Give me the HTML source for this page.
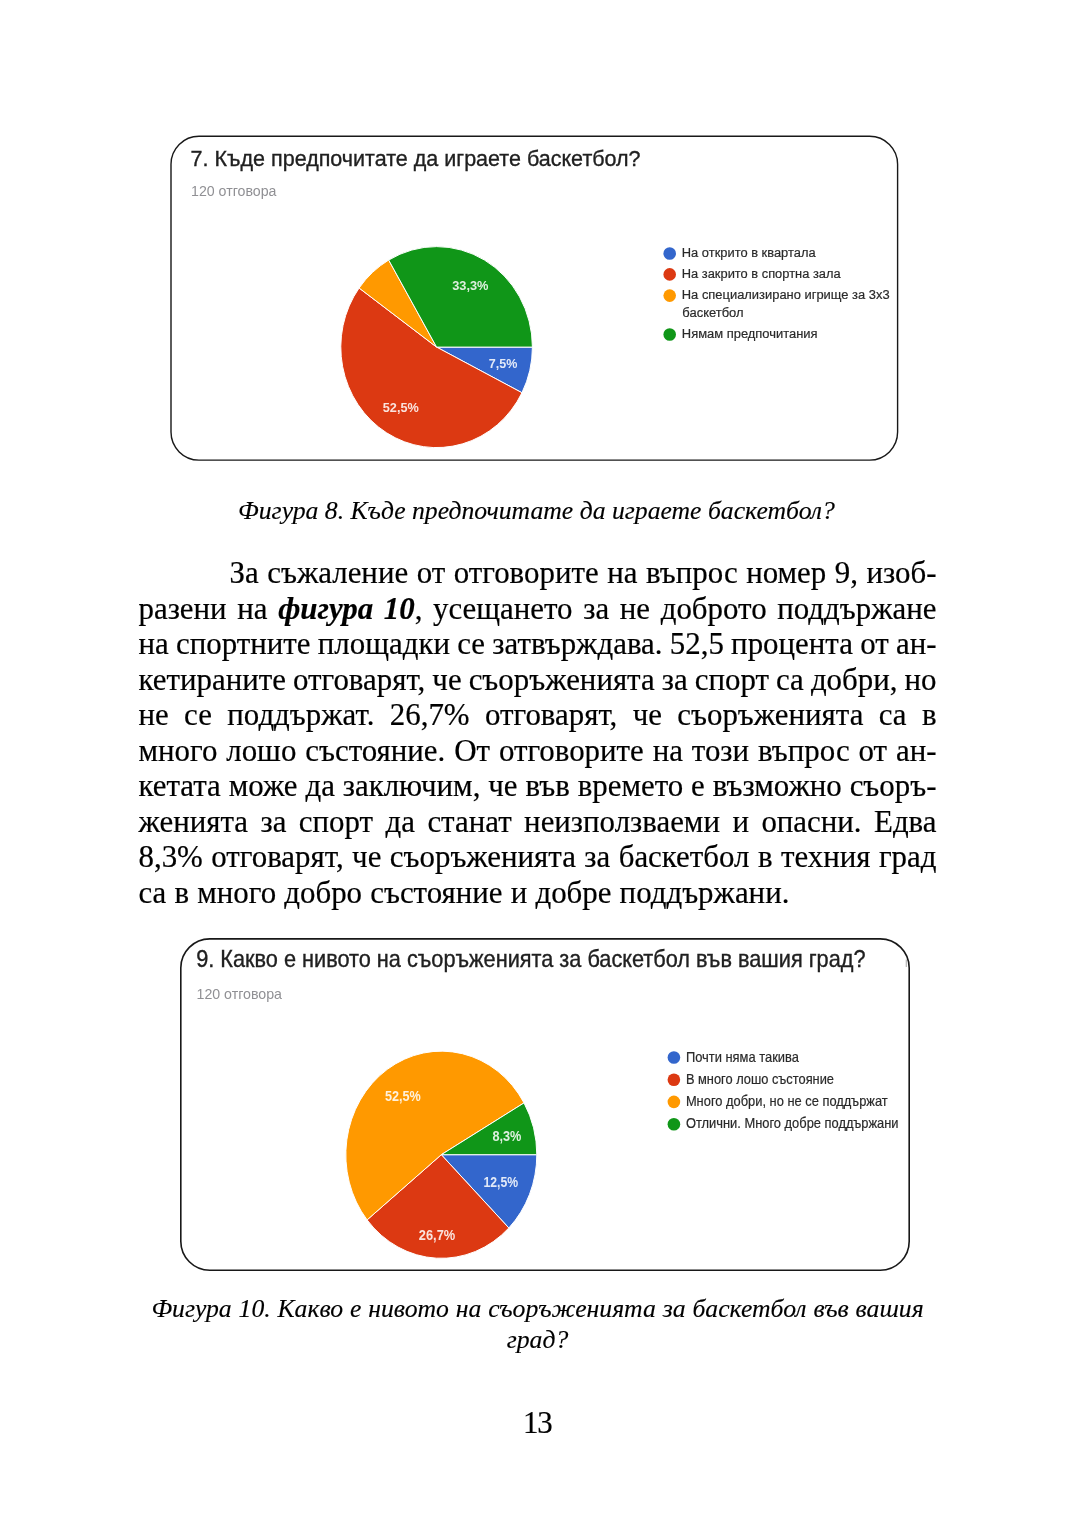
<!DOCTYPE html>
<html lang="bg">
<head>
<meta charset="utf-8">
<title>Страница 13</title>
<style>
html,body{margin:0;padding:0;background:#fff;}
body{width:1080px;height:1532px;position:relative;overflow:hidden;}
.bl{position:absolute;white-space:nowrap;font-family:"Liberation Serif","Times New Roman",serif;font-size:30.9px;line-height:1;color:#000;-webkit-text-stroke:0.2px #000;}
.cap{position:absolute;white-space:nowrap;font-family:"Liberation Serif","Times New Roman",serif;font-style:italic;font-size:25.7px;line-height:1;color:#000;-webkit-text-stroke:0.15px #000;}
svg{position:absolute;left:0;top:0;}
.t{font-family:"Liberation Sans",Arial,sans-serif;}
</style>
</head>
<body>
<svg width="1080" height="1532" viewBox="0 0 1080 1532">
<!-- chart 1 -->
<rect x="171" y="136.2" width="726.6" height="323.9" rx="28" ry="28" fill="#fff" stroke="#181818" stroke-width="1.4"/>
<text class="t" x="190.6" y="165.7" font-size="22.7" fill="#202020" stroke="#202020" stroke-width="0.35" textLength="450" lengthAdjust="spacingAndGlyphs">7. Къде предпочитате да играете баскетбол?</text>
<text class="t" x="191" y="195.8" font-size="13.8" fill="#909094" textLength="85.5" lengthAdjust="spacingAndGlyphs">120 отговора</text>
<g stroke="#fff" stroke-width="1" stroke-linejoin="round">
<path d="M436.6,347.1L532.40,347.10A95.8,100.5 0 0 1 521.96,392.73Z" fill="#3366cc"/>
<path d="M436.6,347.1L521.96,392.73A95.8,100.5 0 1 1 359.10,288.03Z" fill="#dc3912"/>
<path d="M436.6,347.1L359.10,288.03A95.8,100.5 0 0 1 388.70,260.06Z" fill="#ff9900"/>
<path d="M436.6,347.1L388.70,260.06A95.8,100.5 0 0 1 532.40,347.10Z" fill="#109618"/>
</g>
<g class="t" font-size="13.5" font-weight="bold" fill="#fff" fill-opacity="0.86">
<text x="452.2" y="290" textLength="36.3" lengthAdjust="spacingAndGlyphs">33,3%</text>
<text x="488.8" y="367.8" textLength="28.6" lengthAdjust="spacingAndGlyphs">7,5%</text>
<text x="382.8" y="411.8" textLength="36" lengthAdjust="spacingAndGlyphs">52,5%</text>
</g>
<g>
<circle cx="669.7" cy="253.5" r="6.3" fill="#3366cc"/>
<circle cx="669.7" cy="274.4" r="6.3" fill="#dc3912"/>
<circle cx="669.7" cy="295.6" r="6.3" fill="#ff9900"/>
<circle cx="669.7" cy="334.5" r="6.3" fill="#109618"/>
</g>
<g class="t" font-size="13.7" fill="#2a2a2a" stroke="#2a2a2a" stroke-width="0.2">
<text x="681.8" y="257.1" textLength="133.8" lengthAdjust="spacingAndGlyphs">На открито в квартала</text>
<text x="681.8" y="277.9" textLength="158.8" lengthAdjust="spacingAndGlyphs">На закрито в спортна зала</text>
<text x="681.8" y="299.2" textLength="207.8" lengthAdjust="spacingAndGlyphs">На специализирано игрище за 3х3</text>
<text x="682.3" y="316.6" textLength="61.3" lengthAdjust="spacingAndGlyphs">баскетбол</text>
<text x="681.8" y="338.1" textLength="135.8" lengthAdjust="spacingAndGlyphs">Нямам предпочитания</text>
</g>
<!-- chart 2 -->
<rect x="180.8" y="938.9" width="728.4" height="331.4" rx="29" ry="29" fill="#fff" stroke="#181818" stroke-width="1.6"/>
<line x1="906.3" y1="959.5" x2="906.3" y2="967" stroke="#b5b5b5" stroke-width="1.2"/>
<text class="t" x="196.2" y="966.7" font-size="23.2" fill="#202020" stroke="#202020" stroke-width="0.35" textLength="669.3" lengthAdjust="spacingAndGlyphs">9. Какво е нивото на съоръженията за баскетбол във вашия град?</text>
<text class="t" x="196.5" y="998.5" font-size="14.4" fill="#909094" textLength="85.5" lengthAdjust="spacingAndGlyphs">120 отговора</text>
<g stroke="#fff" stroke-width="1" stroke-linejoin="round">
<path d="M441.3,1154.7L536.80,1154.70A95.5,103.6 0 0 1 508.83,1227.96Z" fill="#3366cc"/>
<path d="M441.3,1154.7L508.83,1227.96A95.5,103.6 0 0 1 367.08,1219.90Z" fill="#dc3912"/>
<path d="M441.3,1154.7L367.08,1219.90A95.5,103.6 0 1 1 524.01,1102.90Z" fill="#ff9900"/>
<path d="M441.3,1154.7L524.01,1102.90A95.5,103.6 0 0 1 536.80,1154.70Z" fill="#109618"/>
</g>
<g class="t" font-size="14.4" font-weight="bold" fill="#fff" fill-opacity="0.86">
<text x="385" y="1100.5" textLength="35.8" lengthAdjust="spacingAndGlyphs">52,5%</text>
<text x="492.4" y="1141.2" textLength="29" lengthAdjust="spacingAndGlyphs">8,3%</text>
<text x="483.5" y="1186.5" textLength="34.6" lengthAdjust="spacingAndGlyphs">12,5%</text>
<text x="418.8" y="1239.8" textLength="36.4" lengthAdjust="spacingAndGlyphs">26,7%</text>
</g>
<g>
<circle cx="673.9" cy="1057.5" r="6.3" fill="#3366cc"/>
<circle cx="673.9" cy="1079.7" r="6.3" fill="#dc3912"/>
<circle cx="673.9" cy="1101.9" r="6.3" fill="#ff9900"/>
<circle cx="673.9" cy="1124.2" r="6.3" fill="#109618"/>
</g>
<g class="t" font-size="14.2" fill="#2a2a2a" stroke="#2a2a2a" stroke-width="0.2">
<text x="685.9" y="1062.2" textLength="113" lengthAdjust="spacingAndGlyphs">Почти няма такива</text>
<text x="685.9" y="1084.4" textLength="148.1" lengthAdjust="spacingAndGlyphs">В много лошо състояние</text>
<text x="685.9" y="1106.1" textLength="201.8" lengthAdjust="spacingAndGlyphs">Много добри, но не се поддържат</text>
<text x="685.9" y="1128.3" textLength="212.6" lengthAdjust="spacingAndGlyphs">Отлични. Много добре поддържани</text>
</g>
</svg>
<div class="cap" id="cap1" style="left:0;width:1073px;text-align:center;top:498.2px">Фигура 8. Къде предпочитате да играете баскетбол?</div>
<div class="bl" style="left:229.5px;top:557.97px;word-spacing:0.812px">За съжаление от отговорите на въпрос номер 9, изоб-</div>
<div class="bl" style="left:138.5px;top:593.53px;word-spacing:2.938px">разени на <b><i>фигура 10</i></b>, усещането за не доброто поддържане</div>
<div class="bl" style="left:138.5px;top:629.09px;word-spacing:-0.451px">на спортните площадки се затвърждава. 52,5 процента от ан-</div>
<div class="bl" style="left:138.5px;top:664.65px;word-spacing:-0.664px">кетираните отговарят, че съоръженията за спорт са добри, но</div>
<div class="bl" style="left:138.5px;top:700.21px;word-spacing:7.660px">не се поддържат. 26,7% отговарят, че съоръженията са в</div>
<div class="bl" style="left:138.5px;top:735.77px;word-spacing:1.168px">много лошо състояние. От отговорите на този въпрос от ан-</div>
<div class="bl" style="left:138.5px;top:771.33px;word-spacing:0.165px">кетата може да заключим, че във времето е възможно съоръ-</div>
<div class="bl" style="left:138.5px;top:806.89px;word-spacing:4.734px">женията за спорт да станат неизползваеми и опасни. Едва</div>
<div class="bl" style="left:138.5px;top:842.45px;word-spacing:0.740px">8,3% отговарят, че съоръженията за баскетбол в техния град</div>
<div class="bl" style="left:138.5px;top:878.01px;word-spacing:0.450px">са в много добро състояние и добре поддържани.</div>
<div class="cap" id="cap2a" style="left:0;width:1075px;text-align:center;top:1296.3px;word-spacing:0.45px">Фигура 10. Какво е нивото на съоръженията за баскетбол във вашия</div>
<div class="cap" id="cap2b" style="left:0;width:1075px;text-align:center;top:1327.1px">град?</div>
<div class="bl" id="pn" style="left:523px;top:1407.8px;letter-spacing:-1.3px">13</div>
</body>
</html>
